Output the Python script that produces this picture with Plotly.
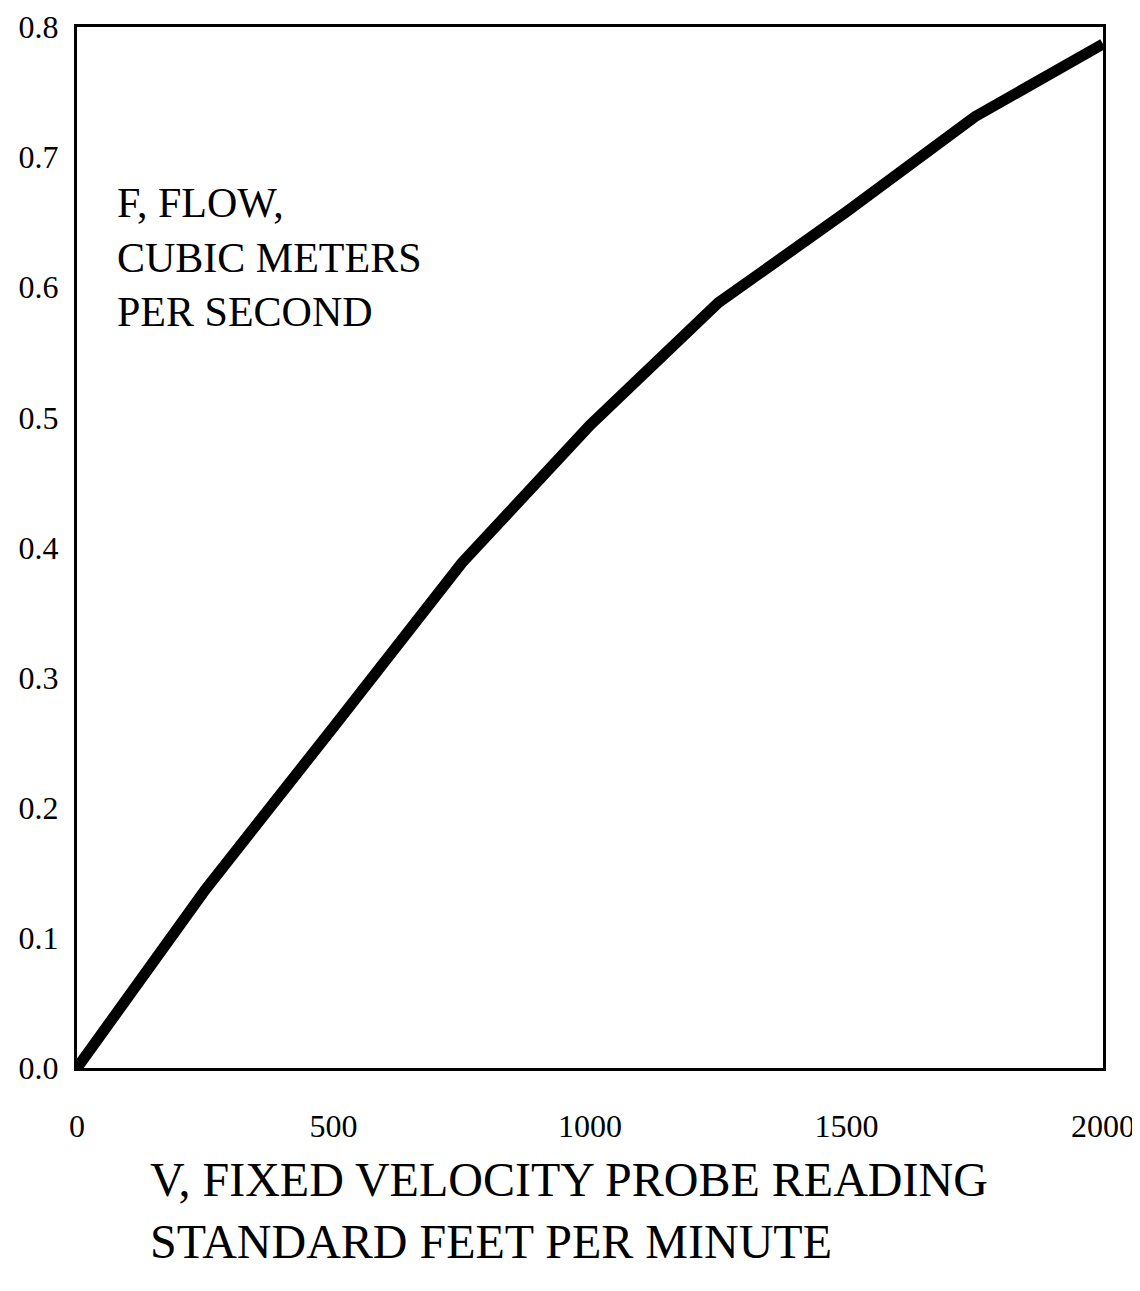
import plotly.graph_objects as go

velocity_fpm = [0, 250, 500, 750, 1000, 1250, 1500, 1750, 2000]
flow_m3s = [0.0, 0.137, 0.262, 0.388, 0.494, 0.588, 0.658, 0.731, 0.787]

x_ticks = [0, 500, 1000, 1500, 2000]
y_ticks = [0.0, 0.1, 0.2, 0.3, 0.4, 0.5, 0.6, 0.7, 0.8]

y_label = "F, FLOW,<br>CUBIC METERS<br>PER SECOND"
x_title = "V, FIXED VELOCITY PROBE READING<br>STANDARD FEET PER MINUTE"

FONT = "Liberation Serif, Times New Roman, serif"

# plot area in page pixels (page has an 8px body margin)
PL, PR, PT, PB = 77, 1103, 27, 1068
W, H = 1132, 1275


def px(xp):
    return (xp - PL) / (PR - PL)


def py(yp):
    return (PB - yp) / (PB - PT)


fig = go.Figure()
fig.add_trace(go.Scatter(
    x=velocity_fpm, y=flow_m3s, mode="lines",
    line=dict(color="black", width=11),
    showlegend=False, hoverinfo="skip",
))

axis_common = dict(
    showgrid=False, zeroline=False, showline=True, mirror=True,
    linecolor="black", linewidth=3, ticks="", automargin=False,
    tickfont=dict(family=FONT, size=32, color="black"),
    ticklabeloverflow="allow",
)

fig.update_xaxes(range=[0, 2000], tickvals=x_ticks,
                 ticktext=[str(v) for v in x_ticks],
                 ticklabelstandoff=28, **axis_common)
fig.update_yaxes(range=[0, 0.8], tickvals=y_ticks,
                 ticktext=[f"{v:.1f}" for v in y_ticks],
                 ticklabelstandoff=9, **axis_common)

fig.add_annotation(
    text=y_label, xref="paper", yref="paper",
    x=px(115), y=py(178),
    xanchor="left", yanchor="top", align="left", showarrow=False,
    font=dict(family=FONT, size=42, color="black"),
)

fig.add_annotation(
    text=x_title, xref="paper", yref="paper",
    x=px(148), y=py(1151),
    xanchor="left", yanchor="top", align="left", showarrow=False,
    font=dict(family=FONT, size=48, color="black"),
)

fig.update_layout(
    width=W, height=H,
    margin=dict(l=PL - 8, r=W - (PR - 8), t=PT - 8, b=H - (PB - 8)),
    paper_bgcolor="white", plot_bgcolor="white",
)

fig.write_html("out.html")
